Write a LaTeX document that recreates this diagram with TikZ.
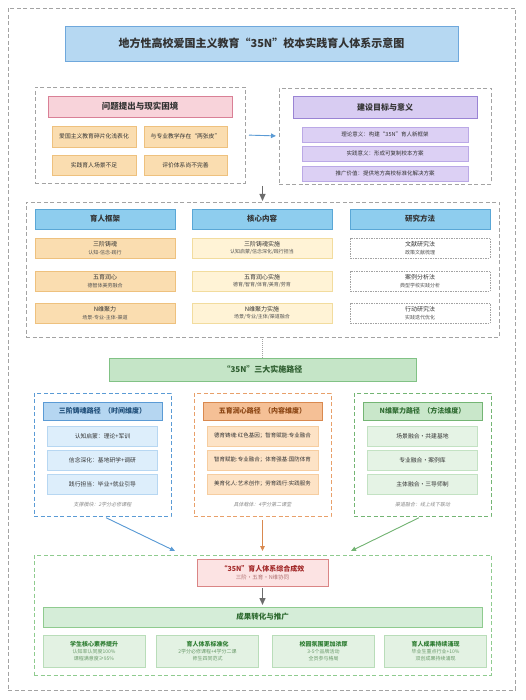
\documentclass[tikz,border=0pt]{standalone}
\usepackage{fontspec}
\setmainfont{Noto Sans CJK SC}
\newfontfamily\slfont{Noto Sans CJK SC}[FakeSlant=0.2]
\usetikzlibrary{arrows.meta,calc}
\definecolor{txt}{HTML}{333333}
\definecolor{framegray}{HTML}{A3A3A3}
\definecolor{titlefill}{HTML}{B6D8F2}\definecolor{titledraw}{HTML}{6FA8DC}
\definecolor{pinkfill}{HTML}{F8D3DA}\definecolor{pinkdraw}{HTML}{D98096}
\definecolor{tanfill}{HTML}{FADDB0}\definecolor{tandraw}{HTML}{EEC17E}
\definecolor{purphfill}{HTML}{D8CCF2}\definecolor{purphdraw}{HTML}{9A84D4}
\definecolor{purpifill}{HTML}{DCD0F4}\definecolor{purpidraw}{HTML}{BBA9E6}
\definecolor{bluehfill}{HTML}{8ECDEE}\definecolor{bluehdraw}{HTML}{5AA7D6}
\definecolor{yelfill}{HTML}{FFF3D6}\definecolor{yeldraw}{HTML}{F2DC9E}
\definecolor{banfill}{HTML}{C5E5C7}\definecolor{bandraw}{HTML}{81C285}\definecolor{bantxt}{HTML}{2E5E30}
\definecolor{pbline}{HTML}{5B9BD5}\definecolor{pbhfill}{HTML}{B5D6F1}\definecolor{pbifill}{HTML}{DDEEFB}\definecolor{pbidraw}{HTML}{B7D7F2}\definecolor{pbtxt}{HTML}{1F4E79}
\definecolor{poline}{HTML}{E8A06A}\definecolor{pohfill}{HTML}{F5C096}\definecolor{pohdraw}{HTML}{D9894F}\definecolor{poifill}{HTML}{FDE3C6}\definecolor{poidraw}{HTML}{F6CDA0}\definecolor{potxt}{HTML}{8B4513}
\definecolor{pgline}{HTML}{74B574}\definecolor{pghfill}{HTML}{C9E7CA}\definecolor{pgifill}{HTML}{E5F3E5}\definecolor{pgidraw}{HTML}{C3E2C3}\definecolor{pgtxt}{HTML}{2E6B30}
\definecolor{botline}{HTML}{8FCB8F}\definecolor{resfill}{HTML}{FCE3E3}\definecolor{resdraw}{HTML}{DA8585}\definecolor{restxt}{HTML}{A32A2A}\definecolor{ressub}{HTML}{B07070}
\definecolor{bhfill}{HTML}{D5EDD8}\definecolor{bbfill}{HTML}{E3F2E3}\definecolor{bbdraw}{HTML}{B9DDB9}\definecolor{bbtxt}{HTML}{2E7D32}\definecolor{bbsub}{HTML}{6A9A6A}
\definecolor{foot}{HTML}{8A8A8A}
\begin{document}
\begin{tikzpicture}[x=1pt,y=-1pt,
  every node/.style={inner sep=0pt, outer sep=0pt, text=txt, align=center},
  frame/.style={draw=framegray, line width=0.8pt, dash pattern=on 4pt off 2.5pt},
  titlebox/.style={draw=titledraw, fill=titlefill, line width=0.8pt, font=\fontsize{11}{12}\selectfont\bfseries},
  pinkhead/.style={draw=pinkdraw, fill=pinkfill, line width=0.8pt, font=\fontsize{8.5}{9}\selectfont\bfseries},
  tanitem/.style={draw=tandraw, fill=tanfill, line width=0.6pt, font=\fontsize{5.8}{6}\selectfont},
  purphead/.style={draw=purphdraw, fill=purphfill, line width=0.8pt, font=\fontsize{8}{9}\selectfont\bfseries},
  purpitem/.style={draw=purpidraw, fill=purpifill, line width=0.6pt, font=\fontsize{5.5}{6}\selectfont},
  bluehead/.style={draw=bluehdraw, fill=bluehfill, line width=0.8pt, font=\fontsize{7.5}{8}\selectfont\bfseries},
  colitem/.style={line width=0.6pt, font=\fontsize{6}{7.5}\selectfont},
  banner/.style={draw=bandraw, fill=banfill, line width=0.8pt, text=bantxt, font=\fontsize{8}{9}\selectfont\bfseries},
  pathhead/.style={line width=0.8pt, font=\fontsize{7}{8}\selectfont\bfseries},
  pathitem/.style={line width=0.6pt, font=\fontsize{5.8}{6}\selectfont},
  footnote/.style={text=foot, font=\slfont\fontsize{5}{6}\selectfont},
  arr/.style={line width=0.9pt, -{Triangle[length=5pt,width=4.5pt]}},
  bigarr/.style={draw=gray!85!black, line width=1.4pt, -{Triangle[length=7pt,width=6pt]}},
]
\useasboundingbox (0,0) rectangle (525,700);
\fill[white] (0,0) rectangle (525,700);

% outer frame
\node[frame, minimum width=507, minimum height=682] (outer) at (261.5,349) {};
\node[titlebox, minimum width=393, minimum height=35] (title) at (261.5,43.5) {地方性高校爱国主义教育“35N”校本实践育人体系示意图};

% problem section
\node[frame, minimum width=210, minimum height=96] (prob) at (140,135) {};
\node[pinkhead, minimum width=184, minimum height=21] (probh) at (140,106.5) {问题提出与现实困境};
\node[tanitem, minimum width=84, minimum height=21] (p1) at (94,136.5) {爱国主义教育碎片化浅表化};
\node[tanitem, minimum width=83, minimum height=21] (p2) at (185.5,136.5) {与专业教学存在“两张皮”};
\node[tanitem, minimum width=84, minimum height=20] (p3) at (94,165) {实践育人场景不足};
\node[tanitem, minimum width=83, minimum height=20] (p4) at (185.5,165) {评价体系尚不完善};

% goals section
\node[frame, minimum width=212, minimum height=96] (goal) at (385,136) {};
\node[purphead, minimum width=184, minimum height=22] (goalh) at (385,107) {建设目标与意义};
\node[purpitem, minimum width=166, minimum height=15] (g1) at (385,134.5) {理论意义：构建“35N”育人新框架};
\node[purpitem, minimum width=166, minimum height=15] (g2) at (385,153.5) {实践意义：形成可复制校本方案};
\node[purpitem, minimum width=166, minimum height=15] (g3) at (385,173.5) {推广价值：提供地方高校标准化解决方案};

\draw[arr, draw=pbline, fill=pbline, shorten <=4pt, shorten >=3pt] (prob.east) -- (goal.west);

% middle section
\node[frame, minimum width=473, minimum height=135] (mid) at (262.5,269.5) {};
\coordinate (topjoin) at (262.5,186);
\draw[bigarr, line width=1pt, shorten >=1pt] (topjoin) -- (mid.north);

\node[bluehead, minimum width=140, minimum height=20] (c1) at (105,219) {育人框架};
\node[bluehead, minimum width=140, minimum height=20] (c2) at (262,219) {核心内容};
\node[bluehead, minimum width=140, minimum height=20] (c3) at (420,219) {研究方法};

\tikzset{c1item/.style={colitem, draw=tandraw, fill=tanfill, minimum width=140, minimum height=20},
         c2item/.style={colitem, draw=yeldraw, fill=yelfill, minimum width=140, minimum height=20},
         c3item/.style={colitem, draw=framegray, fill=white, dash pattern=on 1.5pt off 1pt, minimum width=140, minimum height=20}}
\newcommand\twol[2]{#1\\[0pt]{\fontsize{5}{6}\selectfont\color{txt!85} #2}}
\node[c1item] (a1) at (105,248) {\twol{三阶铸魂}{认知-信念-践行}};
\node[c1item] (a2) at (105,281) {\twol{五育润心}{德智体美劳融合}};
\node[c1item] (a3) at (105,313) {\twol{N维聚力}{场景-专业-主体-渠道}};
\node[c2item] (b1) at (262,248) {\twol{三阶铸魂实施}{认知启蒙/信念深化/践行担当}};
\node[c2item] (b2) at (262,281) {\twol{五育润心实施}{德育/智育/体育/美育/劳育}};
\node[c2item] (b3) at (262,313) {\twol{N维聚力实施}{场景/专业/主体/渠道融合}};
\node[c3item] (d1) at (420,248) {\twol{文献研究法}{政策文献梳理}};
\node[c3item] (d2) at (420,281) {\twol{案例分析法}{典型学校实践分析}};
\node[c3item] (d3) at (420,313) {\twol{行动研究法}{实践迭代优化}};

% banner
\node[banner, minimum width=307, minimum height=23] (ban) at (262.5,369.5) {“35N”三大实施路径};
\draw[framegray, line width=0.7pt, dash pattern=on 1pt off 1pt] (mid.south) -- (ban.north);

% path boxes
\node[frame, draw=pbline, minimum width=137, minimum height=123] (pb) at (102.5,454.5) {};
\node[pathhead, draw=pbline, fill=pbhfill, text=pbtxt, minimum width=119, minimum height=18] (pbh) at (102.5,411) {三阶铸魂路径\ \ （时间维度）};
\node[pathitem, draw=pbidraw, fill=pbifill, minimum width=110, minimum height=20] (pb1) at (102.5,436) {认知启蒙：理论+军训};
\node[pathitem, draw=pbidraw, fill=pbifill, minimum width=110, minimum height=20] (pb2) at (102.5,460) {信念深化：基地研学+调研};
\node[pathitem, draw=pbidraw, fill=pbifill, minimum width=110, minimum height=20] (pb3) at (102.5,484) {践行担当：毕业+就业引导};
\node[footnote] (pbf) at (102.5,505) {支撑模块：2学分必修课程};

\node[frame, draw=poline, minimum width=137, minimum height=123] (po) at (262.5,454.5) {};
\node[pathhead, draw=pohdraw, fill=pohfill, text=potxt, minimum width=119, minimum height=18] (poh) at (262.5,411) {五育润心路径\ \ （内容维度）};
\node[pathitem, draw=poidraw, fill=poifill, minimum width=111, minimum height=20, font=\fontsize{5.5}{6}\selectfont] (po1) at (262.5,436) {德育铸魂:红色基因；智育赋能:专业融合};
\node[pathitem, draw=poidraw, fill=poifill, minimum width=111, minimum height=20, font=\fontsize{5.5}{6}\selectfont] (po2) at (262.5,460) {智育赋能:专业融合；体育强基:国防体育};
\node[pathitem, draw=poidraw, fill=poifill, minimum width=111, minimum height=20, font=\fontsize{5.5}{6}\selectfont] (po3) at (262.5,484) {美育化人:艺术创作；劳育践行:实践服务};
\node[footnote] (pof) at (262.5,505) {具体载体：4学分第二课堂};

\node[frame, draw=pgline, minimum width=137, minimum height=123] (pg) at (422.5,454.5) {};
\node[pathhead, draw=pgline, fill=pghfill, text=pgtxt, minimum width=119, minimum height=18] (pgh) at (422.5,411) {N维聚力路径\ \ （方法维度）};
\node[pathitem, draw=pgidraw, fill=pgifill, minimum width=110, minimum height=20] (pg1) at (422.5,436) {场景融合·共建基地};
\node[pathitem, draw=pgidraw, fill=pgifill, minimum width=110, minimum height=20] (pg2) at (422.5,460) {专业融合·案例库};
\node[pathitem, draw=pgidraw, fill=pgifill, minimum width=110, minimum height=20] (pg3) at (422.5,484) {主体融合·三导师制};
\node[footnote] (pgf) at (422.5,505) {渠道融合：线上线下联动};

% bottom section
\node[frame, draw=botline, minimum width=457, minimum height=120] (bot) at (262.5,615) {};
\coordinate (inL) at (175,551);
\coordinate (inM) at (262.5,551);
\coordinate (inR) at (351,551);
\draw[arr, draw=pbline, fill=pbline, shorten <=4pt] (pb.south) -- (inL);
\draw[arr, draw=pohdraw, fill=pohdraw, shorten <=4pt] (po.south) -- (inM);
\draw[arr, draw=pgline, fill=pgline, shorten <=4pt] (pg.south) -- (inR);

\node[draw=resdraw, fill=resfill, line width=0.8pt, minimum width=131, minimum height=27, font=\fontsize{6}{8.5}\selectfont] (res) at (262.5,572.5) {{\fontsize{7}{8}\selectfont\bfseries\color{restxt}“35N”育人体系综合成效}\\{\fontsize{5.5}{6}\selectfont\color{ressub}三阶·五育·N维协同}};
\node[draw=botline, fill=bhfill, line width=0.8pt, minimum width=439, minimum height=20, text=pgtxt, font=\fontsize{7.5}{8}\selectfont\bfseries] (bh) at (262.5,617) {成果转化与推广};
\draw[bigarr, shorten <=2pt, shorten >=2pt] (res.south) -- (bh.north);

\tikzset{bbox/.style={draw=bbdraw, fill=bbfill, line width=0.6pt, minimum width=102, minimum height=32, font=\fontsize{5}{6.5}\selectfont}}
\newcommand\threel[3]{{\fontsize{6}{7}\selectfont\bfseries\color{bbtxt}#1}\\[0.5pt]{\color{bbsub}#2}\\{\color{bbsub}#3}}
\node[bbox] (r1) at (94,651) {\threel{学生核心素养提升}{认知率认同度100\%}{课程满意度≥95\%}};
\node[bbox] (r2) at (207.5,651) {\threel{育人体系标准化}{2学分必修课程+4学分二课}{师生四同范式}};
\node[bbox] (r3) at (323.5,651) {\threel{校园氛围更加浓厚}{3-5个品牌活动}{全员参与格局}};
\node[bbox] (r4) at (435.5,651) {\threel{育人成果持续涌现}{毕业生重点行业+10\%}{双创成果持续涌现}};
\end{tikzpicture}
\end{document}
